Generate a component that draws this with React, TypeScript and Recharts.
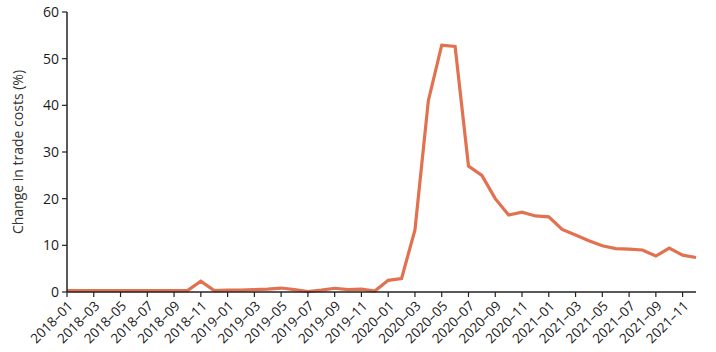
import React from "react";
import { LineChart, Line, XAxis, YAxis } from "recharts";

document.body.style.margin = "0";

// ── Months 2018–01 .. 2021–12 ─────────────────────────────────────────────────
const MONTHS = [
    "2018–01", "2018–02", "2018–03", "2018–04", "2018–05", "2018–06",
    "2018–07", "2018–08", "2018–09", "2018–10", "2018–11", "2018–12",
    "2019–01", "2019–02", "2019–03", "2019–04", "2019–05", "2019–06",
    "2019–07", "2019–08", "2019–09", "2019–10", "2019–11", "2019–12",
    "2020–01", "2020–02", "2020–03", "2020–04", "2020–05", "2020–06",
    "2020–07", "2020–08", "2020–09", "2020–10", "2020–11", "2020–12",
    "2021–01", "2021–02", "2021–03", "2021–04", "2021–05", "2021–06",
    "2021–07", "2021–08", "2021–09", "2021–10", "2021–11", "2021–12",
];

// Change in trade costs, %
const COST_CHANGE = [
    0.3, 0.3, 0.3, 0.3, 0.3, 0.3, 0.3, 0.3, 0.3, 0.3, 2.3, 0.3,
    0.4, 0.4, 0.5, 0.6, 0.85, 0.5, 0.1, 0.4, 0.8, 0.5, 0.6, 0.2,
    2.5, 2.9, 13.3, 41, 52.9, 52.6, 27, 25, 20, 16.5, 17.1, 16.3,
    16.1, 13.4, 12.2, 11, 9.9, 9.3, 9.2, 9.0, 7.7, 9.4, 7.9, 7.4,
];

const Y_TICKS = [0, 10, 20, 30, 40, 50, 60];

const LINE_COLOR = "#e2714f";
const AXIS_COLOR = "#222";
const FONT = "'Open Sans', 'Noto Sans', sans-serif";

const data = MONTHS.map((m, i) => ({ month: m, value: COST_CHANGE[i] }));

export default function App() {
    return (
        <div style={{ width: 716, height: 352, background: "#fff", fontFamily: FONT }}>
            <LineChart
                width={716}
                height={352}
                data={data}
                margin={{ top: 12, right: 20, bottom: 2, left: 5 }}
            >
                <XAxis
                    dataKey="month"
                    interval={1}
                    angle={-45}
                    textAnchor="end"
                    height={58}
                    tickSize={5}
                    tickMargin={3}
                    axisLine={{ stroke: AXIS_COLOR, strokeWidth: 1.5 }}
                    tickLine={{ stroke: AXIS_COLOR, strokeWidth: 1.2 }}
                    tick={{ fontSize: 13.5, fill: "#1a1a1a", fontFamily: FONT }}
                />
                <YAxis
                    width={62}
                    domain={[0, 60]}
                    ticks={Y_TICKS}
                    tickSize={5}
                    tickMargin={3}
                    axisLine={{ stroke: AXIS_COLOR, strokeWidth: 1.5 }}
                    tickLine={{ stroke: AXIS_COLOR, strokeWidth: 1.2 }}
                    tick={{ fontSize: 14, fill: "#1a1a1a", fontFamily: FONT }}
                    label={{
                        value: "Change in trade costs (%)",
                        angle: -90,
                        position: "insideLeft",
                        dx: 8,
                        style: { textAnchor: "middle", fontSize: 14, fill: "#333", fontFamily: FONT },
                    }}
                />
                <Line
                    type="linear"
                    dataKey="value"
                    stroke={LINE_COLOR}
                    strokeWidth={3.2}
                    dot={false}
                    isAnimationActive={false}
                />
            </LineChart>
        </div>
    );
}
